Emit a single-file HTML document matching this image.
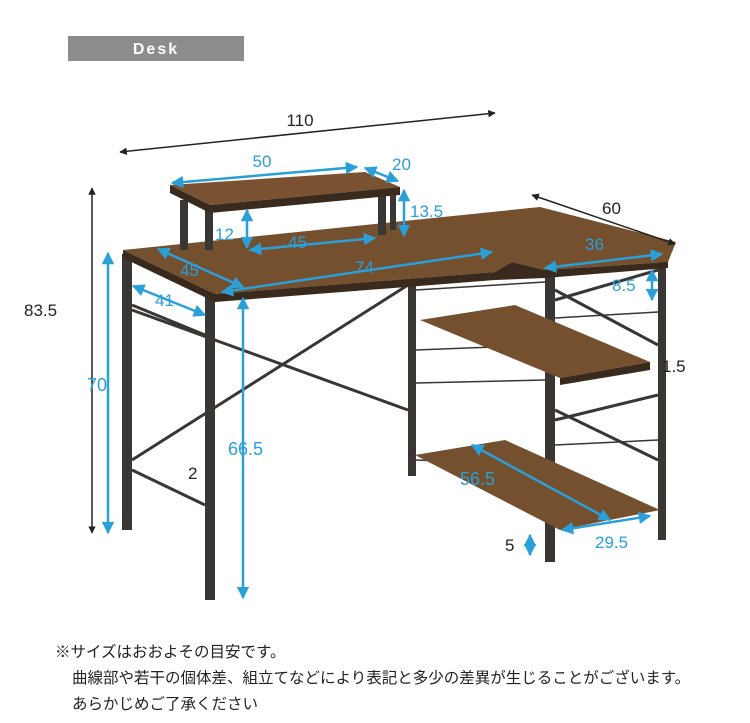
<!DOCTYPE html>
<html><head><meta charset="utf-8"><style>
body{margin:0;background:#fff;width:750px;height:723px;overflow:hidden;font-family:"Liberation Sans","Noto Sans CJK JP",sans-serif}
.n{position:absolute;left:72px;font-size:15.5px;color:#222;font-family:"Liberation Sans","Noto Sans CJK JP",sans-serif;white-space:nowrap}
</style></head><body>
<svg width="750" height="723" style="position:absolute;left:0;top:0" font-family="Liberation Sans, sans-serif">
<defs>
<marker id="a" viewBox="0 0 10 10" refX="9" refY="5" markerWidth="5" markerHeight="5" orient="auto-start-reverse"><path d="M0,0L10,5L0,10z" fill="#2a9fd8"/></marker>
<marker id="k" viewBox="0 0 10 10" refX="9" refY="5" markerWidth="5" markerHeight="5" orient="auto-start-reverse"><path d="M0,0L10,5L0,10z" fill="#222"/></marker>
</defs>
<rect x="68" y="36" width="176" height="25" fill="#8c8c8c"/>
<text x="156" y="54" fill="#fff" font-size="16" font-weight="bold" text-anchor="middle" letter-spacing="2">Desk</text>
<g fill="#3a3634">
<rect x="122" y="254" width="10" height="276"/>
<rect x="205" y="292" width="10" height="308"/>
<rect x="408" y="284" width="8" height="192"/>
<rect x="545" y="270" width="10" height="292"/>
<rect x="658" y="262" width="8" height="278"/>
</g>
<g stroke="#3a3634" stroke-width="3" fill="none">
<line x1="132" y1="310" x2="408" y2="410"/><line x1="132" y1="460" x2="408" y2="285"/>
<line x1="132" y1="305" x2="205" y2="335"/><line x1="132" y1="470" x2="205" y2="505"/>
<line x1="555" y1="290" x2="658" y2="345"/><line x1="555" y1="300" x2="658" y2="270"/>
<line x1="555" y1="410" x2="658" y2="460"/><line x1="555" y1="420" x2="658" y2="395"/>
</g>
<g stroke="#3a3634" stroke-width="1.5">
<line x1="416" y1="290" x2="545" y2="282"/><line x1="416" y1="350" x2="545" y2="345"/><line x1="416" y1="383" x2="545" y2="380"/>
<line x1="416" y1="460" x2="545" y2="465"/><line x1="555" y1="318" x2="658" y2="312"/><line x1="555" y1="445" x2="658" y2="440"/>
</g>
<polygon points="420,320 515,305 650,362 560,378" fill="#74502f"/>
<polygon points="560,378 650,362 650,370 560,385" fill="#3a2a1e"/>
<polygon points="415,455 505,440 660,510 560,530" fill="#74502f"/>
<polygon points="123,250 540,207 676,242 668,262 545,270 512,262 495,272 215,294" fill="#74502f"/>
<polygon points="123,250 215,294 215,302 123,258" fill="#3a2a1e"/>
<polygon points="215,294 495,272 512,262 545,270 668,262 668,268 545,278 495,280 215,302" fill="#3a2a1e"/>
<g fill="#3a3634"><rect x="180" y="200" width="8" height="50"/><rect x="205" y="205" width="8" height="45"/><rect x="378" y="190" width="8" height="45"/><rect x="390" y="188" width="6" height="42"/></g>
<polygon points="170,185 365,172 400,187 210,205" fill="#7a5232"/>
<polygon points="170,185 210,205 210,213 170,193" fill="#3a2a1e"/>
<polygon points="210,205 400,187 400,195 210,213" fill="#3a2a1e"/>
<g stroke="#2a9fd8" stroke-width="2.5" fill="none" marker-start="url(#a)" marker-end="url(#a)">
<line x1="172" y1="183" x2="357" y2="167"/>
<line x1="365" y1="168" x2="398" y2="181"/>
<line x1="404" y1="190" x2="404" y2="236"/>
<line x1="247" y1="210" x2="247" y2="248"/>
<line x1="250" y1="250" x2="375" y2="238"/>
<line x1="158" y1="249" x2="243" y2="287"/>
<line x1="222" y1="292" x2="492" y2="252"/>
<line x1="133" y1="286" x2="205" y2="315"/>
<line x1="108" y1="253" x2="108" y2="533"/>
<line x1="243" y1="298" x2="243" y2="598"/>
<line x1="545" y1="268" x2="662" y2="254"/>
<line x1="652" y1="270" x2="652" y2="300"/>
<line x1="472" y1="445" x2="610" y2="520"/>
<line x1="562" y1="530" x2="650" y2="516"/>
<line x1="530" y1="535" x2="530" y2="555"/>
</g>
<g stroke="#222" stroke-width="1.5" fill="none" marker-start="url(#k)" marker-end="url(#k)">
<line x1="120" y1="152" x2="495" y2="113"/>
<line x1="92" y1="188" x2="92" y2="533"/>
<line x1="532" y1="195" x2="675" y2="244"/>
</g>
<g font-size="17" fill="#2a9fd8">
<text x="262" y="167" text-anchor="middle">50</text>
<text x="392" y="170">20</text>
<text x="410" y="217">13.5</text>
<text x="215" y="240">12</text>
<text x="288" y="248">45</text>
<text x="180" y="276">45</text>
<text x="355" y="273">74</text>
<text x="155" y="306">41</text>
<text x="97" y="391" text-anchor="middle" font-size="18">70</text>
<text x="228" y="455" font-size="18">66.5</text>
<text x="585" y="250">36</text>
<text x="612" y="291">8.5</text>
<text x="460" y="485" font-size="18">56.5</text>
<text x="595" y="548">29.5</text>
</g>
<g font-size="17" fill="#222">
<text x="300" y="126" text-anchor="middle">110</text>
<text x="24" y="316" font-size="17">83.5</text>
<text x="602" y="214">60</text>
<text x="188" y="479">2</text>
<text x="505" y="551">5</text>
<text x="662" y="372">1.5</text>
</g>
</svg>
<div class="n" style="top:640px;left:55px">※サイズはおおよその目安です。</div>
<div class="n" style="top:666px">曲線部や若干の個体差、組立てなどにより表記と多少の差異が生じることがございます。</div>
<div class="n" style="top:692px">あらかじめご了承ください</div>
</body></html>
